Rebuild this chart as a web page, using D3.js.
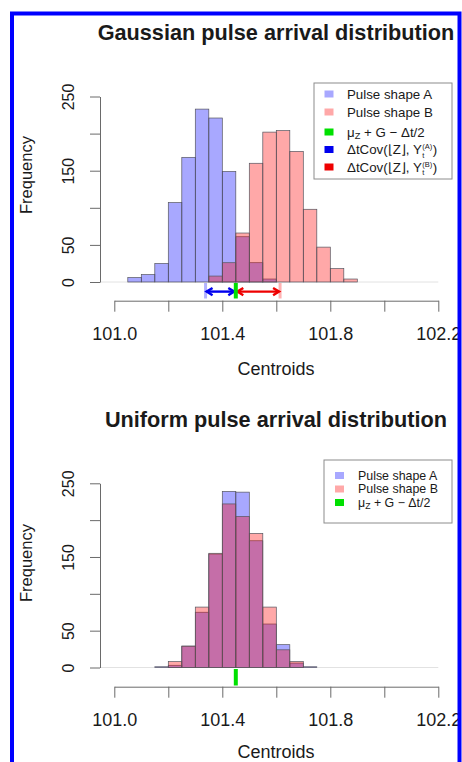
<!DOCTYPE html>
<html><head><meta charset="utf-8">
<script src="https://cdn.jsdelivr.net/npm/d3@7"></script>
<style>
body{margin:0;background:#fff}
svg{display:block}
text{font-family:"Liberation Sans",Arial,Helvetica,sans-serif;fill:#1a1a1a}
</style>
</head><body><svg id="c" width="462" height="762"></svg>
<script>
// ---------- data ----------
const xTicks = [101.0, 101.2, 101.4, 101.6, 101.8, 102.0, 102.2];
const xTickLabels = ["101.0", "", "101.4", "", "101.8", "", "102.2"];
const yTicks = [0, 50, 100, 150, 200, 250];
const yTickLabels = ["0", "50", "", "150", "", "250"];

const gaussBreaks = [101.05, 101.10, 101.15, 101.20, 101.25, 101.30, 101.35, 101.40, 101.45,
                     101.50, 101.55, 101.60, 101.65, 101.70, 101.75, 101.80, 101.85, 101.90];
const gaussA = [6, 10, 25, 107, 168, 233, 221, 149, 61, 26, 4, 0, 0, 0, 0, 0, 0];
const gaussB = [0, 0, 0, 0, 0, 0, 8, 26, 66, 160, 202, 204, 176, 98, 47, 18, 4];

const uniformBreaks = [101.15, 101.20, 101.25, 101.30, 101.35, 101.40, 101.45,
                       101.50, 101.55, 101.60, 101.65, 101.70, 101.75];
const uniformA = [1, 3, 29, 75, 154, 239, 238, 172, 59, 31, 6, 1];
const uniformB = [0, 8, 29, 82, 155, 222, 205, 182, 82, 24, 8, 0];

const muValue = 101.45;          // mu_Z + G - dt/2
const covAStart = 101.338;       // mu - dtCov(A)
const covBEnd = 101.614;         // mu + dtCov(B)

const titles = ["Gaussian pulse arrival distribution", "Uniform pulse arrival distribution"];
const xTitle = "Centroids";
const yTitle = "Frequency";

// ---------- styles ----------
const fillA = "rgba(0,0,255,0.34)";
const fillB = "rgba(255,0,0,0.34)";
const green = "#00e000";
const blue = "#0000ee";
const red = "#ee0000";
const axisCol = "#6a6a6a";

const svg = d3.select("#c");
svg.append("rect").attr("width", 462).attr("height", 762).attr("fill", "#fff");

const x = d3.scaleLinear().domain([101.0, 102.2]).range([114.3, 438.3]);

function drawHist(g, breaks, counts, fill, y) {
  const bins = counts.map((c, i) => ({x0: breaks[i], x1: breaks[i + 1], c})).filter(d => d.c > 0);
  g.selectAll(null).data(bins).enter().append("rect")
    .attr("x", d => x(d.x0)).attr("width", d => x(d.x1) - x(d.x0))
    .attr("y", d => y(d.c)).attr("height", d => y(0) - y(d.c))
    .attr("fill", fill).attr("stroke", "#55555f").attr("stroke-width", 0.7);
}

function panel(cfg) {
  const g = svg.append("g");
  const y = d3.scaleLinear().domain([0, 250]).range([cfg.y0, cfg.y250]);

  g.append("line").attr("x1", 100).attr("x2", x(102.2)).attr("y1", y(0)).attr("y2", y(0))
    .attr("stroke", "#e2e2e2").attr("stroke-width", 1);

  drawHist(g, cfg.breaks, cfg.a, fillA, y);
  drawHist(g, cfg.breaks, cfg.b, fillB, y);

  const xa = g.append("g").attr("transform", `translate(0,${cfg.axisY})`)
    .call(d3.axisBottom(x).tickValues(xTicks).tickSize(11).tickSizeOuter(0).tickPadding(16)
      .tickFormat((d, i) => xTickLabels[i]));
  xa.selectAll("path,line").attr("stroke", axisCol);
  xa.selectAll("text").attr("font-size", 18).attr("fill", "#1a1a1a")
    .style("font-family", '"Liberation Sans",Arial,sans-serif');

  const ya = g.append("g").attr("transform", "translate(100,0)")
    .call(d3.axisLeft(y).tickValues(yTicks).tickSize(10).tickSizeOuter(0)
      .tickFormat((d, i) => yTickLabels[i]));
  ya.selectAll("path,line").attr("stroke", axisCol);
  ya.selectAll("text").attr("x", 0).attr("dy", 0).attr("text-anchor", "middle")
    .attr("transform", "translate(-26,0) rotate(-90)")
    .attr("font-size", 16).attr("fill", "#1a1a1a")
    .style("font-family", '"Liberation Sans",Arial,sans-serif');

  g.append("text").attr("x", 276).attr("y", cfg.titleY).attr("text-anchor", "middle")
    .attr("font-size", 21.7).attr("font-weight", "bold").attr("fill", "#111").text(cfg.title);
  g.append("text").attr("x", 276).attr("y", cfg.xTitleY).attr("text-anchor", "middle")
    .attr("font-size", 18).text(xTitle);
  g.append("text").attr("transform", `translate(32,${cfg.yTitleC}) rotate(-90)`)
    .attr("text-anchor", "middle").attr("font-size", 16.5).text(yTitle);
  return {g, y};
}

function arrow(g, x1, x2, yy, color) {
  g.append("line").attr("x1", x1).attr("x2", x2).attr("y1", yy).attr("y2", yy)
    .attr("stroke", color).attr("stroke-width", 2.4);
  const h = 6, w = 3.6;
  g.append("path").attr("d", `M${x1 + h},${yy - w} L${x1},${yy} L${x1 + h},${yy + w}`)
    .attr("fill", "none").attr("stroke", color).attr("stroke-width", 2.4);
  g.append("path").attr("d", `M${x2 - h},${yy - w} L${x2},${yy} L${x2 - h},${yy + w}`)
    .attr("fill", "none").attr("stroke", color).attr("stroke-width", 2.4);
}

// ---------- legend helpers ----------
function measure(s, fs) {
  const t = svg.append("text").attr("font-size", fs).text(s);
  const w = t.node().getComputedTextLength();
  t.remove();
  return w;
}
function textLabel(s, fs) {
  return (g, tx, ty) => g.append("text").attr("x", tx).attr("y", ty).attr("font-size", fs).text(s);
}
function muLabel(fs) {
  return (g, tx, ty) => {
    const t = g.append("text").attr("x", tx).attr("y", ty).attr("font-size", fs);
    t.append("tspan").text("μ");
    t.append("tspan").attr("font-size", fs * 0.7).attr("dy", 2.5).text("Z");
    t.append("tspan").attr("dy", -2.5).text(" + G − Δt/2");
  };
}
function covLabel(tag, fs) {
  return function (g, tx, ty) {
    const main = "ΔtCov(⌊Z⌋, Y", supS = `(${tag})`, SFS = 7.5;
    const w = measure(main, fs);
    const w2 = Math.max(measure(supS, SFS), measure("t", SFS));
    const t = g.append("text").attr("x", tx).attr("y", ty).attr("font-size", fs);
    t.append("tspan").text(main);
    t.append("tspan").attr("x", tx + w + 0.5).attr("dy", -5).attr("font-size", SFS).text(supS);
    t.append("tspan").attr("x", tx + w + 0.5).attr("dy", 8.6).attr("font-size", SFS).text("t");
    t.append("tspan").attr("x", tx + w + 1 + w2).attr("dy", -3.6).text(")");
  };
}

function legend(box, items) {
  const g = svg.append("g");
  g.append("rect").attr("x", box.x).attr("y", box.y).attr("width", box.w).attr("height", box.h)
    .attr("fill", "#fff").attr("stroke", "#8c8c8c").attr("stroke-width", 1);
  items.forEach((it, i) => {
    const cy = box.rows[i];
    g.append("rect").attr("x", box.sx).attr("y", cy - 3.5).attr("width", 9).attr("height", 7)
      .attr("fill", it.color);
    it.render(g, box.tx, cy + box.fs * 0.34);
  });
}

// ---------- panel 1: Gaussian ----------
const p1 = panel({y0: 282, y250: 96.5, axisY: 300.7, breaks: gaussBreaks, a: gaussA, b: gaussB,
  title: titles[0], titleY: 40, xTitleY: 375, yTitleC: 175});
{
  const g = p1.g;
  const yTop = 283, yBot = 298.5, ya = 291.6;
  g.append("line").attr("x1", x(covAStart)).attr("x2", x(covAStart)).attr("y1", yTop).attr("y2", yBot)
    .attr("stroke", "rgba(0,0,255,0.3)").attr("stroke-width", 3);
  g.append("line").attr("x1", x(covBEnd)).attr("x2", x(covBEnd)).attr("y1", yTop).attr("y2", yBot)
    .attr("stroke", "rgba(255,0,0,0.3)").attr("stroke-width", 3);
  arrow(g, x(covAStart) + 1, x(muValue) - 1.5, ya, blue);
  arrow(g, x(muValue) + 1.5, x(covBEnd) - 1, ya, red);
  g.append("line").attr("x1", x(muValue)).attr("x2", x(muValue)).attr("y1", yTop).attr("y2", yBot)
    .attr("stroke", green).attr("stroke-width", 4);
}
const FS1 = 13.3;
legend({x: 314, y: 83, w: 138, h: 96, sx: 324.5, tx: 347, fs: FS1, rows: [94, 112, 132, 149.5, 167]}, [
  {color: fillA, render: textLabel("Pulse shape A", FS1)},
  {color: fillB, render: textLabel("Pulse shape B", FS1)},
  {color: green, render: muLabel(FS1)},
  {color: blue, render: covLabel("A", FS1)},
  {color: red, render: covLabel("B", FS1)}
]);

// ---------- panel 2: Uniform ----------
const p2 = panel({y0: 667.5, y250: 483.3, axisY: 686.7, breaks: uniformBreaks, a: uniformA, b: uniformB,
  title: titles[1], titleY: 426.5, xTitleY: 757.5, yTitleC: 563});
p2.g.append("line").attr("x1", x(muValue)).attr("x2", x(muValue)).attr("y1", 669).attr("y2", 685.5)
  .attr("stroke", green).attr("stroke-width", 4);
const FS2 = 12.4;
legend({x: 324, y: 460, w: 128, h: 63, sx: 335, tx: 358, fs: FS2, rows: [475.5, 489, 502.5]}, [
  {color: fillA, render: textLabel("Pulse shape A", FS2)},
  {color: fillB, render: textLabel("Pulse shape B", FS2)},
  {color: green, render: muLabel(FS2)}
]);

// ---------- blue frame ----------
svg.append("rect").attr("x", 12).attr("y", 13.5).attr("width", 447.5).attr("height", 800)
  .attr("fill", "none").attr("stroke", "#0000ff").attr("stroke-width", 4);
</script>
</body></html>
